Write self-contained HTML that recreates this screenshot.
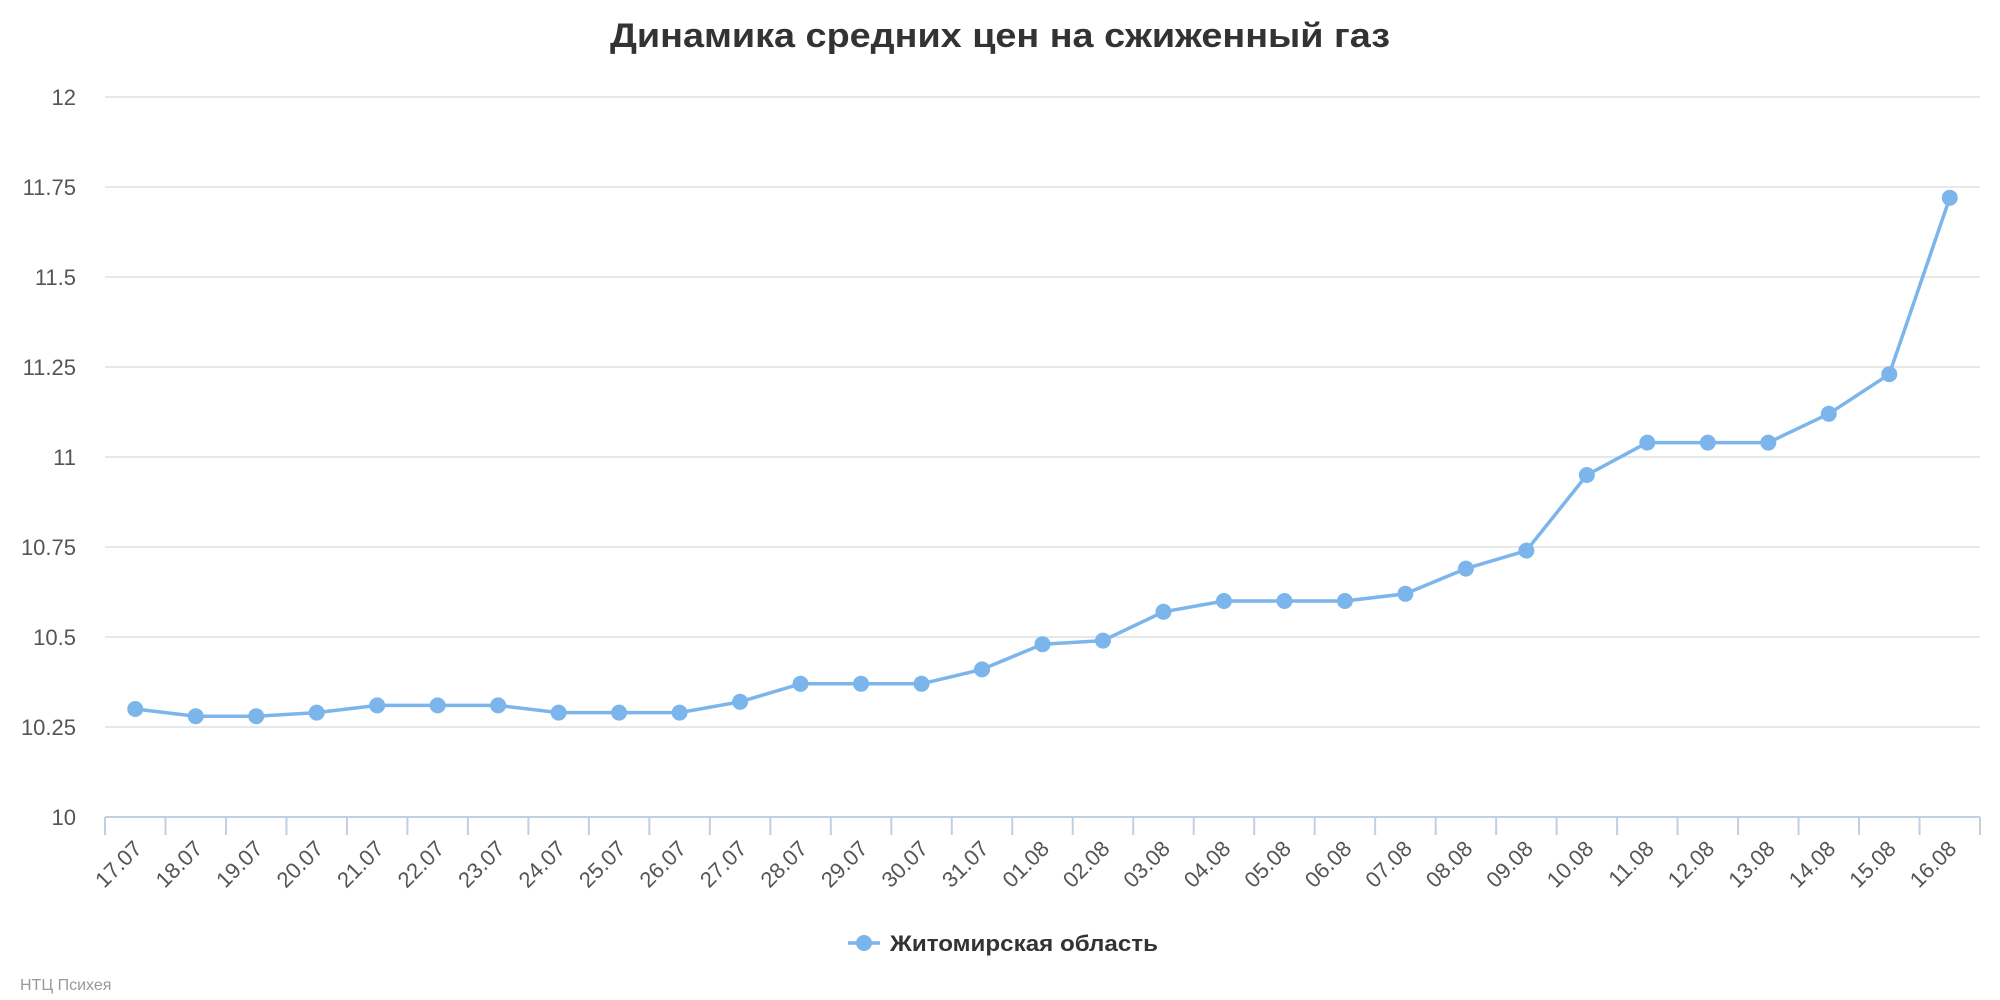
<!DOCTYPE html>
<html><head><meta charset="utf-8"><style>html,body{margin:0;padding:0;background:#fff}svg{display:block}</style></head>
<body>
<svg width="2000" height="1000" xmlns="http://www.w3.org/2000/svg" font-family="'Liberation Sans','DejaVu Sans',sans-serif">
<rect width="2000" height="1000" fill="#fff"/>
<text x="1000" y="47" text-anchor="middle" font-size="34" font-weight="bold" fill="#333" textLength="780" lengthAdjust="spacingAndGlyphs">Динамика средних цен на сжиженный газ</text>
<g stroke="#e0e0e0" stroke-width="1.5">
<line x1="105" x2="1980" y1="97" y2="97"/><line x1="105" x2="1980" y1="187" y2="187"/><line x1="105" x2="1980" y1="277" y2="277"/><line x1="105" x2="1980" y1="367" y2="367"/><line x1="105" x2="1980" y1="457" y2="457"/><line x1="105" x2="1980" y1="547" y2="547"/><line x1="105" x2="1980" y1="637" y2="637"/><line x1="105" x2="1980" y1="727" y2="727"/>
</g>
<g font-size="22" fill="#555" text-anchor="end">
<text x="76" y="105">12</text><text x="76" y="195">11.75</text><text x="76" y="285">11.5</text><text x="76" y="375">11.25</text><text x="76" y="465">11</text><text x="76" y="555">10.75</text><text x="76" y="645">10.5</text><text x="76" y="735">10.25</text><text x="76" y="825">10</text>
</g>
<line x1="105" x2="1980" y1="817" y2="817" stroke="#c0d0e0" stroke-width="2"/>
<g id="ticks" stroke="#c0d0e0" stroke-width="2"></g>
<g id="xl" font-size="22" fill="#555" text-anchor="end"></g>
<polyline id="ln" fill="none" stroke="#7cb5ec" stroke-width="3.5" stroke-linejoin="round"/>
<g id="pts" fill="#7cb5ec"></g>
<line x1="848" x2="880" y1="943" y2="943" stroke="#7cb5ec" stroke-width="3.5"/>
<circle cx="864" cy="943" r="8" fill="#7cb5ec"/>
<text x="890" y="951" font-size="22" font-weight="bold" fill="#333" textLength="268" lengthAdjust="spacingAndGlyphs">Житомирская область</text>
<text x="20" y="990" font-size="16" fill="#999">НТЦ Психея</text>
<script>
var v=[10.30,10.28,10.28,10.29,10.31,10.31,10.31,10.29,10.29,10.29,10.32,10.37,10.37,10.37,10.41,10.48,10.49,10.57,10.60,10.60,10.60,10.62,10.69,10.74,10.95,11.04,11.04,11.04,11.12,11.23,11.72];
var l=["17.07","18.07","19.07","20.07","21.07","22.07","23.07","24.07","25.07","26.07","27.07","28.07","29.07","30.07","31.07","01.08","02.08","03.08","04.08","05.08","06.08","07.08","08.08","09.08","10.08","11.08","12.08","13.08","14.08","15.08","16.08"];
var ns="http://www.w3.org/2000/svg",w=1875/31,p=[],t=document.getElementById("ticks"),xl=document.getElementById("xl"),g=document.getElementById("pts");
for(var k=0;k<=31;k++){var e=document.createElementNS(ns,"line");var x=105+w*k;e.setAttribute("x1",x);e.setAttribute("x2",x);e.setAttribute("y1",817);e.setAttribute("y2",835);t.appendChild(e);}
for(var i=0;i<31;i++){var x=105+w*(i+0.5),y=817-(v[i]-10)*360;p.push(x.toFixed(1)+","+y.toFixed(1));
var c=document.createElementNS(ns,"circle");c.setAttribute("cx",x);c.setAttribute("cy",y);c.setAttribute("r",8);g.appendChild(c);
var tx=document.createElementNS(ns,"text");var ax=x+8,ay=850;tx.setAttribute("x",ax);tx.setAttribute("y",ay);tx.setAttribute("transform","rotate(-45 "+ax+" "+ay+")");tx.textContent=l[i];xl.appendChild(tx);}
document.getElementById("ln").setAttribute("points",p.join(" "));
</script>
</svg>
</body></html>
